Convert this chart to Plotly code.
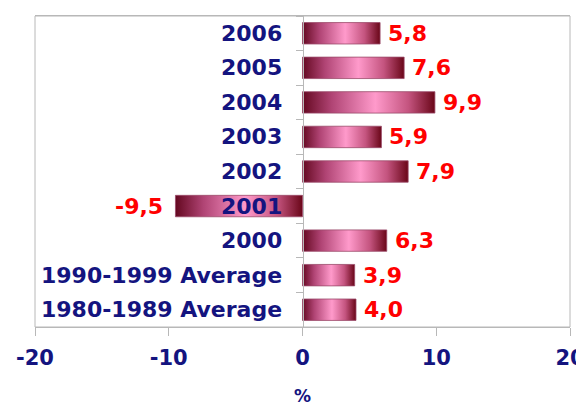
import plotly.graph_objects as go

categories = ["2006", "2005", "2004", "2003", "2002", "2001", "2000",
              "1990-1999 Average", "1980-1989 Average"]
values = [5.8, 7.6, 9.9, 5.9, 7.9, -9.5, 6.3, 3.9, 4.0]
x_ticks = [-20, -10, 0, 10, 20]
x_tick_labels = ["-20", "-10", "0", "10", "20"]

NAVY = "#14147f"
RED = "#ff0000"
GRAY = "#b8b8b8"
FONT = "DejaVu Sans"
half = 0.31

grad = [[0.0, "#640820"], [0.22, "#b04474"], [0.55, "#ff9acb"],
        [0.8, "#c4547f"], [1.0, "#6a0618"]]

fig = go.Figure()
for i, (cat, v) in enumerate(zip(categories, values)):
    fig.add_trace(go.Scatter(
        x=[0, v, v, 0, 0],
        y=[i - half, i - half, i + half, i + half, i - half],
        mode="lines", fill="toself",
        fillgradient=dict(type="horizontal", colorscale=grad),
        line=dict(color="#9a4a6a", width=0.8),
        name=cat, hoverinfo="skip", showlegend=False,
    ))

annotations = []
for i, (cat, v) in enumerate(zip(categories, values)):
    annotations.append(dict(
        x=0, y=i, xref="x", yref="y", text=cat, showarrow=False,
        xanchor="right", yanchor="middle", xshift=-19,
        font=dict(family=FONT, size=22, color=NAVY, weight="bold")))
    annotations.append(dict(
        x=v, y=i, xref="x", yref="y",
        text=f"{v:.1f}".replace(".", ","), showarrow=False,
        xanchor="left" if v >= 0 else "right", yanchor="middle",
        xshift=6 if v >= 0 else -10,
        font=dict(family=FONT, size=22, color=RED, weight="bold")))

n = len(categories)
fig.update_layout(
    width=576, height=400,
    margin=dict(l=27, r=14, t=8, b=81, autoexpand=False),
    paper_bgcolor="white", plot_bgcolor="white",
    annotations=annotations,
    xaxis=dict(
        range=[-20, 20], tickvals=x_ticks, ticktext=x_tick_labels,
        showgrid=False, zeroline=False, automargin=False,
        ticklabeloverflow="allow", ticklabelstandoff=4,
        showline=True, linecolor=GRAY, linewidth=1, mirror=True,
        ticks="outside", ticklen=8, tickcolor=GRAY,
        tickfont=dict(family=FONT, size=21, color=NAVY, weight="bold"),
        title=dict(text="%", standoff=20,
                   font=dict(family=FONT, size=17, color=NAVY, weight="bold")),
    ),
    yaxis=dict(
        range=[n - 0.5, -0.5],
        tickvals=[k - 0.5 for k in range(n + 1)],
        ticktext=["" for _ in range(n + 1)],
        anchor="free", position=0.5, automargin=False,
        showgrid=False, zeroline=False,
        showline=True, linecolor=GRAY, linewidth=1,
        ticks="outside", ticklen=7, tickcolor=GRAY,
    ),
    shapes=[dict(type="rect", xref="paper", yref="paper", x0=0, x1=1, y0=0, y1=1,
                 line=dict(color=GRAY, width=1), fillcolor="rgba(0,0,0,0)")],
)

fig.write_html("out.html")
